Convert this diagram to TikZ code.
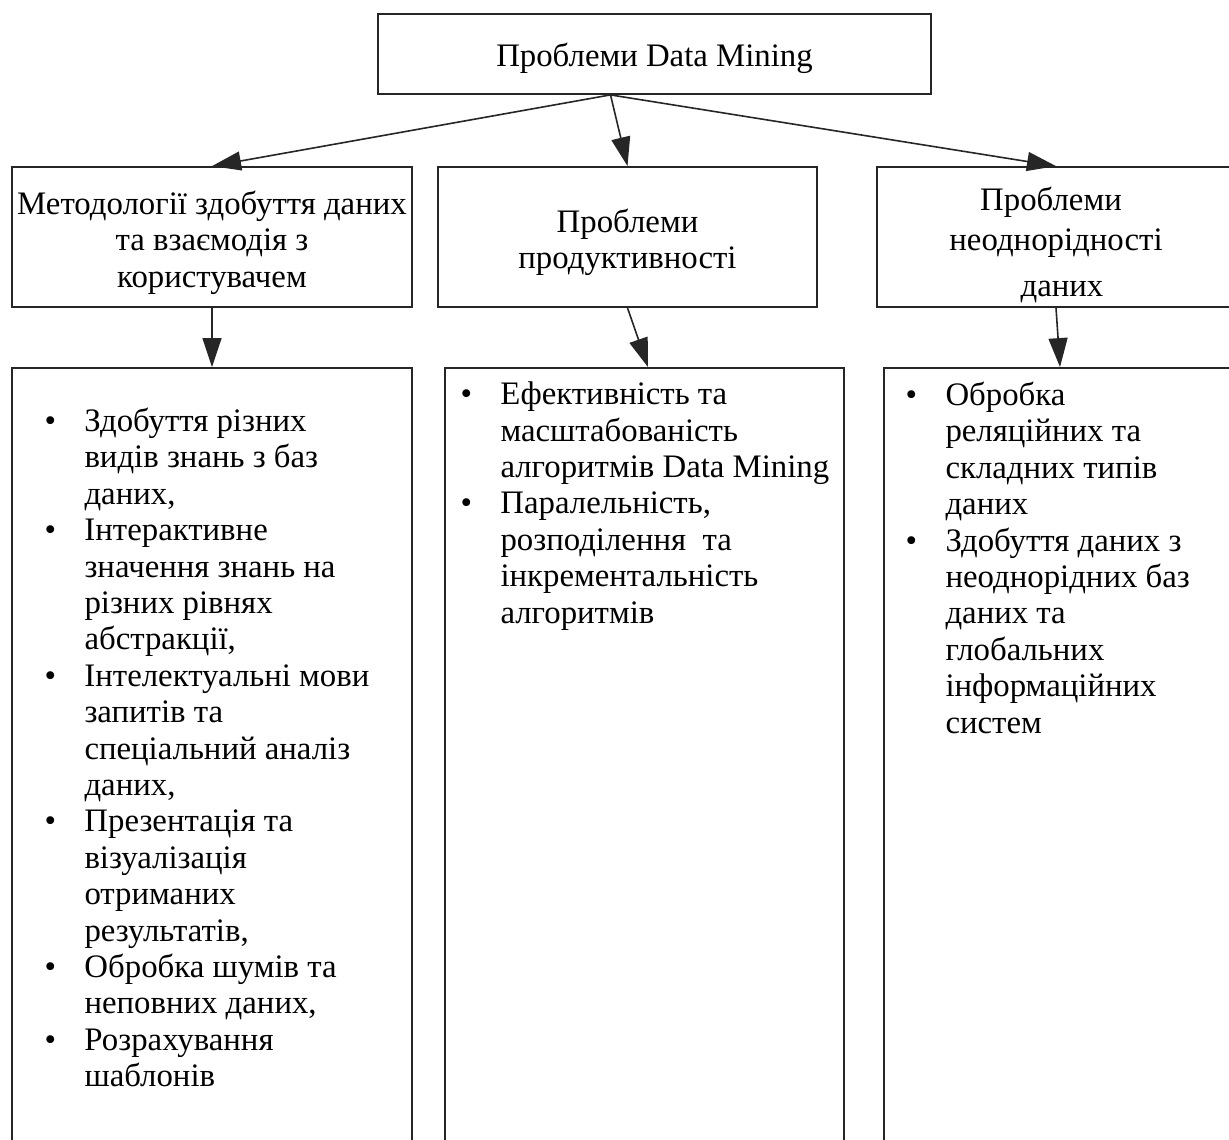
\documentclass[tikz,border=0pt]{standalone}
\usepackage{fontspec}
\setmainfont{Liberation Serif}
\usetikzlibrary{arrows.meta,positioning}

\newcommand{\bul}{\makebox[20pt][l]{\textbullet}}
\newcommand{\ind}{\hspace*{20pt}}

\begin{document}
\begin{tikzpicture}[x=0.5pt, y=-0.5pt,
        every node/.style={font=\fontsize{16.4pt}{18.2pt}\selectfont},
        box/.style={draw=black!85, line width=0.9pt, inner sep=0pt},
        head/.style={inner sep=0pt, align=center},
        list/.style={inner sep=0pt, align=left, anchor=north west},
        arr/.style={draw=black!85, line width=0.8pt, -{Triangle[length=14.5pt, width=9.5pt]}}]
                \useasboundingbox (0, 0) rectangle (1229, 1139);
                \clip (0, 0) rectangle (1229, 1139);
                \node [box, minimum width=276.5pt, minimum height=40pt] (top) at (654.5, 54) {};
                \node [box, minimum width=200pt, minimum height=70pt] (meth) at (212, 237) {};
                \node [box, minimum width=189.5pt, minimum height=70pt] (perf) at (627.5, 237) {};
                \node [box, minimum width=179pt, minimum height=70pt] (hetero) at (1056, 237) {};
                \node [box, minimum width=200pt, minimum height=406pt] (methlist) at (212, 774) {};
                \node [box, minimum width=199.5pt, minimum height=406pt] (perflist) at (644.5, 774) {};
                \node [box, minimum width=176pt, minimum height=406pt] (heterolist) at (1060, 774) {};
                \node [head] (toptext) at ([yshift=-2pt]top.center) {Проблеми Data Mining};
                \node [head] (methhead) at ([yshift=-2.75pt]meth.center) {Методології здобуття даних\\та взаємодія з\\користувачем};
                \node [head] (perfhead) at ([yshift=-2.75pt]perf.center) {Проблеми\\продуктивності};
                \node [head] (heterohead) at ([yshift=-4pt]hetero.center) {Проблеми\hspace*{5pt}\\[1.75pt]неоднорідності\\[5.25pt]\hspace*{6pt}даних};
                \node [list, below right=20.25pt and 16.5pt of methlist.north west] (methtext) {\bul Здобуття різних\\\ind видів знань з баз\\\ind даних,\\\bul Інтерактивне\\\ind значення знань на\\\ind різних рівнях\\\ind абстракції,\\\bul Інтелектуальні мови\\\ind запитів та\\\ind спеціальний аналіз\\\ind даних,\\\bul Презентація та\\\ind візуалізація\\\ind отриманих\\\ind результатів,\\\bul Обробка шумів та\\\ind неповних даних,\\\bul Розрахування\\\ind шаблонів};
                \node [list, below right=7.25pt and 8pt of perflist.north west] (perftext) {\bul Ефективність та\\\ind масштабованість\\\ind алгоритмів Data Mining\\\bul Паралельність,\\\ind розподілення\ \ та\\\ind інкрементальність\\\ind алгоритмів};
                \node [list, below right=7.25pt and 11pt of heterolist.north west] (heterotext) {\bul Обробка\\\ind реляційних та\\\ind складних типів\\\ind даних\\\bul Здобуття даних з\\\ind неоднорідних баз\\\ind даних та\\\ind глобальних\\\ind інформаційних\\\ind систем};
                \draw [arr] ([xshift=-22pt]top.south) -- (meth.north);
                \draw [arr] ([xshift=-22pt]top.south) -- (perf.north);
                \draw [arr] ([xshift=-22pt]top.south) -- (hetero.north);
                \draw [arr] (meth.south) -- (methlist.north);
                \draw [arr] (perf.south) -- ([xshift=1.75pt]perflist.north);
                \draw [arr] (hetero.south) -- (heterolist.north);
            \end{tikzpicture}
\end{document}
